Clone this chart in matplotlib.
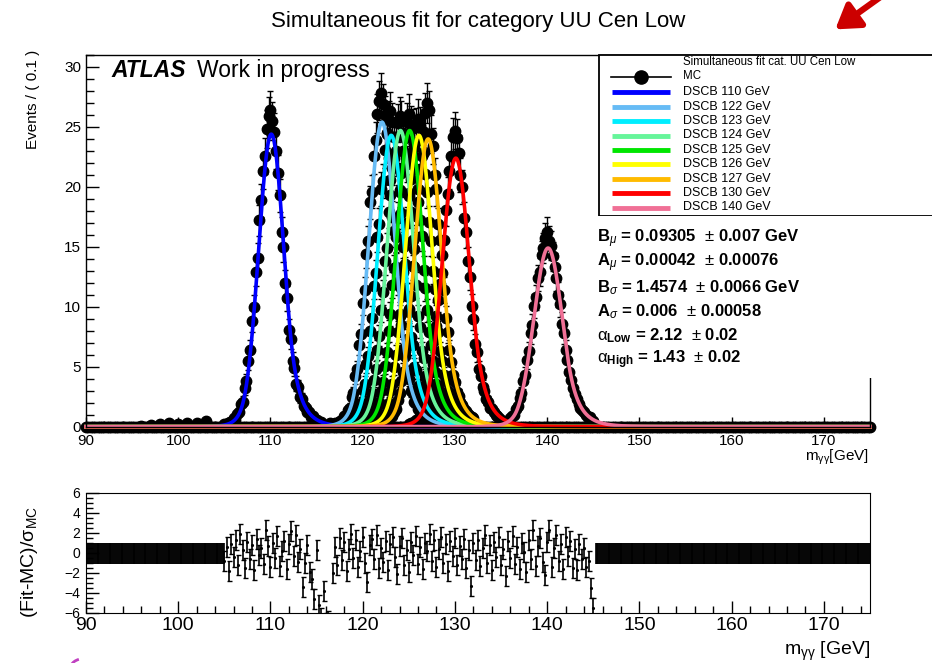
import numpy as np
import matplotlib
matplotlib.use('Agg')
import matplotlib.pyplot as plt
from matplotlib.patches import Rectangle, Arc, FancyArrowPatch
from matplotlib.lines import Line2D
from matplotlib.ticker import MultipleLocator

plt.rcParams['font.family'] = ['Liberation Sans', 'DejaVu Sans']
plt.rcParams['mathtext.fontset'] = 'custom'
plt.rcParams['mathtext.rm'] = 'Liberation Sans'
plt.rcParams['mathtext.it'] = 'Liberation Sans:italic'
plt.rcParams['mathtext.bf'] = 'Liberation Sans:bold'
NARROW = ['Liberation Sans Narrow', 'Liberation Sans', 'DejaVu Sans']

# mass points, fit colours, fitted peak heights
masses = [110, 122, 123, 124, 125, 126, 127, 130, 140]
colors = ['#0000ff', '#66bbf5', '#00eeff', '#66f59a', '#00e600',
          '#ffff00', '#ffbb00', '#ff0000', '#f07096']
curve_peak = [24.4, 25.4, 24.3, 24.7, 24.7, 24.3, 24.0, 22.4, 14.9]

# simultaneous fit parameters (from the text box)
B_mu, A_mu = 0.09305, 0.00042
B_sig, A_sig = 1.4574, 0.006
a_low, a_high = 2.12, 1.43
n_low, n_high = 10.0, 10.0

# MC points, -5 .. +5 GeV around each mass in 0.2 GeV steps
mc_offsets = np.linspace(-5, 5, 51)
mc_110 = [0.2, 0.1, 0.3, 0.4, 0.5, 0.7, 0.6, 1.1, 1.2, 1.9, 2.1, 3.2, 3.8, 5.5, 6.4, 8.8, 10.0,
          12.9, 14.1, 17.2, 18.9, 21.3, 22.6, 24.8, 25.9, 26.4, 25.5, 24.6, 23.0, 21.2, 19.3,
          16.2, 15.0, 12.0, 10.7, 8.1, 7.3, 5.5, 4.9, 3.6, 3.3, 2.5, 2.3, 1.7, 1.6, 1.2, 1.2,
          0.8, 0.9, 0.6, 0.6]
mc_122 = [0.3, 0.2, 0.4, 0.5, 0.6, 0.9, 0.8, 1.4, 1.6, 2.5, 2.8, 4.2, 4.8, 6.8, 7.7, 10.3, 11.4,
          14.4, 15.5, 18.7, 19.6, 22.6, 23.9, 26.1, 27.2, 27.8, 26.9, 26.0, 24.5, 22.4, 20.6,
          17.5, 16.3, 13.3, 12.1, 9.4, 8.5, 6.5, 5.9, 4.4, 4.0, 3.0, 2.8, 2.1, 2.0, 1.5, 1.4,
          1.0, 1.1, 0.7, 0.8]
mc_123 = [0.1, 0.3, 0.3, 0.6, 0.5, 0.8, 1.1, 1.1, 1.8, 2.0, 3.1, 3.6, 5.2, 5.9, 8.0, 9.1, 11.7,
          12.8, 15.8, 16.9, 19.8, 20.5, 23.1, 24.4, 25.6, 26.3, 25.4, 24.2, 23.0, 21.6, 19.6,
          17.8, 15.0, 13.6, 10.9, 9.8, 7.5, 6.8, 5.0, 4.7, 3.4, 3.3, 2.4, 2.4, 1.7, 1.7, 1.2,
          1.3, 0.8, 0.9, 0.6]
mc_124 = [0.3, 0.2, 0.4, 0.4, 0.7, 0.6, 1.0, 1.3, 1.5, 2.3, 2.8, 3.9, 4.8, 6.4, 7.6, 9.7, 11.2,
          13.8, 14.9, 17.9, 19.3, 21.6, 22.4, 24.2, 25.3, 25.9, 25.6, 24.5, 22.8, 21.9, 19.2,
          17.9, 15.6, 13.3, 11.8, 9.2, 8.3, 6.3, 5.7, 4.2, 3.9, 2.9, 2.7, 2.0, 1.9, 1.4, 1.4,
          1.0, 1.0, 0.7, 0.8]
mc_125 = [0.2, 0.3, 0.3, 0.5, 0.6, 0.8, 0.9, 1.3, 1.7, 2.1, 3.0, 3.7, 5.1, 6.2, 8.0, 9.4, 11.8,
          13.2, 15.8, 17.4, 19.7, 21.2, 23.0, 24.1, 25.4, 26.1, 25.2, 24.9, 23.3, 21.5, 19.8,
          17.2, 15.9, 13.1, 11.6, 9.7, 7.9, 6.8, 5.2, 4.6, 3.6, 3.2, 2.5, 2.3, 1.8, 1.6, 1.3,
          1.2, 0.9, 0.8, 0.8]
mc_126 = [0.2, 0.2, 0.4, 0.4, 0.6, 0.7, 1.0, 1.1, 1.7, 2.0, 3.0, 3.6, 5.0, 6.0, 7.9, 9.2, 11.6,
          12.9, 15.4, 17.0, 19.5, 20.7, 22.6, 23.7, 25.0, 25.7, 25.1, 24.0, 22.9, 21.1, 19.6,
          17.1, 15.5, 13.0, 11.5, 9.2, 7.9, 6.3, 5.5, 4.3, 3.8, 3.0, 2.6, 2.2, 1.8, 1.5, 1.4,
          1.1, 1.0, 0.8, 0.7]
mc_127 = [0.3, 0.2, 0.3, 0.5, 0.5, 0.8, 0.9, 1.2, 1.5, 2.2, 2.8, 3.8, 4.6, 6.3, 7.3, 9.6, 10.9,
          13.4, 14.8, 17.6, 18.7, 21.5, 22.6, 24.6, 26.2, 27.0, 26.4, 24.4, 23.4, 21.0, 19.8,
          16.9, 15.6, 12.8, 11.4, 9.1, 7.9, 6.4, 5.4, 4.3, 3.7, 2.9, 2.6, 2.1, 1.8, 1.5, 1.3,
          1.1, 0.9, 0.8, 0.7]
mc_130 = [0.2, 0.3, 0.3, 0.4, 0.6, 0.6, 0.9, 1.2, 1.4, 2.0, 2.7, 3.4, 4.6, 5.5, 7.2, 8.4, 10.6,
          11.9, 14.3, 15.6, 18.1, 19.4, 21.3, 22.6, 24.2, 24.7, 24.1, 22.8, 21.0, 20.0, 17.4,
          16.2, 13.8, 12.5, 10.1, 9.0, 6.9, 6.2, 4.8, 4.2, 3.3, 3.0, 2.3, 2.1, 1.6, 1.5, 1.2,
          1.0, 0.9, 0.7, 0.6]
mc_140 = [0.2, 0.3, 0.3, 0.5, 0.5, 0.7, 0.9, 1.0, 1.5, 1.7, 2.4, 2.8, 3.8, 4.3, 5.6, 6.3, 7.8,
          8.5, 10.1, 10.8, 12.4, 12.9, 14.3, 14.9, 15.7, 16.2, 15.5, 15.1, 14.2, 13.3, 12.4,
          11.0, 10.2, 8.6, 7.8, 6.4, 5.6, 4.6, 3.9, 3.2, 2.7, 2.3, 1.9, 1.6, 1.4, 1.2, 1.0,
          0.8, 0.8, 0.6, 0.5]
mc_values = [mc_110, mc_122, mc_123, mc_124, mc_125, mc_126, mc_127, mc_130, mc_140]
mc_weight = 0.1   # per-event weight -> stat. error sqrt(w * N)

# scattered low-level MC points off the peaks
tail_x = [96, 97, 98, 99, 100, 101, 102, 103, 115.5, 116.5, 117.5, 118.5]
tail_y = [0.1, 0.15, 0.2, 0.3, 0.25, 0.35, 0.3, 0.5, 0.4, 0.35, 0.5, 0.6]

# pulls (Fit-MC)/sigma, 105 .. 145 GeV in 0.25 GeV steps
pull_start, pull_step = 105.0, 0.25
pulls = [-0.8, 0.6, -1.8, 0.9, -0.4, 1.3, -1.2, 1.9,
         0.3, -1.5, 1.1, -0.6, 0.8, -1.7, 1.4, -0.2,
         0.5, -1.1, 2.3, 0.7, -1.4, 1.0, -0.5, 1.7,
         -1.3, 0.2, 1.2, -1.6, 0.9, 2.2, -0.3, 1.8,
         -0.9, 0.4, -3.4, -1.0, 0.8, -1.9, -2.6, -4.6,
         0.3, -5.2, -6.5, -3.8, -7.0, -6.8, -7.5, -2.0,
         0.6, -1.2, 1.5, -0.7, 1.1, -1.8, 0.4, 1.9,
         -0.5, 1.3, -1.4, 0.2, 1.6, -1.0, -2.9, 0.8,
         1.4, -0.6, 1.8, -1.5, 0.5, -0.9, 1.2, -1.7,
         0.9, 1.6, -0.4, -2.1, 0.7, 1.5, -1.2, 0.3,
         -1.9, 1.1, -0.2, 1.7, -1.1, 0.6, -1.6, 1.0,
         0.2, 1.9, -0.8, 1.3, -1.4, 0.4, 1.6, -1.0,
         0.9, -1.8, 1.2, -0.3, 1.5, -1.2, 0.7, -0.6,
         1.4, -1.5, 0.3, -3.3, 1.0, -0.7, 1.3, -1.3,
         0.5, 1.8, -1.0, 0.8, -1.7, 1.1, -0.4, 1.6,
         -1.2, 0.4, -2.3, 1.2, -0.5, 1.7, -1.1, 0.6,
         -1.6, 1.0, 0.1, -1.9, 1.3, -0.6, 2.3, -1.3,
         0.7, 1.5, -0.9, -2.2, 1.1, 2.3, -1.4, 0.5,
         1.8, -0.8, 0.9, -1.6, 1.6, -0.3, 1.2, -1.5,
         0.4, -1.7, 0.9, -0.6, 0.5, -1.4, -0.8, -3.5,
         -5.5]

xmin, xmax = 90, 175


def dscb(x, mu, sig):
    t = (x - mu) / sig
    y = np.exp(-0.5 * t ** 2)
    lo = t < -a_low
    hi = t > a_high
    y[lo] = np.exp(-0.5 * a_low ** 2) * (a_low / n_low * (n_low / a_low - a_low - t[lo])) ** (-n_low)
    y[hi] = np.exp(-0.5 * a_high ** 2) * (a_high / n_high * (n_high / a_high - a_high + t[hi])) ** (-n_high)
    return y


W, H = 932, 663
fig = plt.figure(figsize=(9.32, 6.63), dpi=100)


def fx(x):
    return x / W


def fy(y):
    return 1 - y / H


ax = fig.add_axes([fx(86), fy(426.7), fx(870 - 86), (426.7 - 55) / H])
axr = fig.add_axes([fx(86), fy(613), fx(870 - 86), (613 - 493) / H])

# ---- top pad: MC points
ms = 7.5
zero_x = np.arange(xmin, xmax + 0.01, 0.25)
ax.plot(zero_x, np.zeros_like(zero_x), 'o', color='black', ms=ms, clip_on=False, zorder=2)
ax.plot(tail_x, tail_y, 'o', color='black', ms=ms, zorder=2)
for m, vals in zip(masses, mc_values):
    v = np.array(vals)
    ax.errorbar(m + mc_offsets, v, yerr=np.sqrt(mc_weight * v), fmt='o', color='black',
                ms=ms, elinewidth=1, capsize=2.2, capthick=1, zorder=2)

# ---- fitted DSCB curves
xf = np.linspace(xmin, xmax, 4000)
for m, c, pk in zip(masses, colors, curve_peak):
    mu = m + B_mu + A_mu * (m - 125)
    sig = B_sig + A_sig * (m - 125)
    ax.plot(xf, pk * dscb(xf, mu, sig), color=c, lw=2.6, zorder=3, clip_on=False)

ax.set_xlim(xmin, xmax)
ax.set_ylim(0, 31)
ax.xaxis.set_major_locator(MultipleLocator(10))
ax.xaxis.set_minor_locator(MultipleLocator(2))
ax.yaxis.set_major_locator(MultipleLocator(5))
ax.yaxis.set_minor_locator(MultipleLocator(1))
ax.tick_params(which='both', direction='in', top=False, right=False, labelsize=11, width=1)
ax.tick_params(which='major', axis='y', length=9)
ax.tick_params(which='minor', axis='y', length=6)
ax.tick_params(which='major', axis='x', length=7, pad=5)
ax.tick_params(which='minor', axis='x', length=4)
for sp in ax.spines.values():
    sp.set_linewidth(1)
    sp.set_zorder(4)

ax.text(0.033, 0.94, 'ATLAS', transform=ax.transAxes, fontsize=16.5, fontweight='bold',
        fontstyle='italic', va='baseline')
ax.text(0.142, 0.94, 'Work in progress', transform=ax.transAxes, fontsize=16.5, va='baseline')

fig.text(fx(869), fy(457), r'm$_{\mathrm{\gamma\gamma}}$[GeV]', ha='right', va='center', fontsize=11)
fig.text(fx(33), fy(50), 'Events / ( 0.1 )', rotation=90, ha='center', va='top', fontsize=11)
fig.text(fx(478), fy(22), 'Simultaneous fit for category UU Cen Low', ha='center', va='center',
         fontsize=16)

# ---- bottom pad: pulls
flat_lo = np.arange(xmin + 0.05, 105.0, 0.1)
flat_hi = np.arange(145.25, xmax, 0.1)
for fxs in (flat_lo, flat_hi):
    axr.errorbar(fxs, np.zeros_like(fxs), yerr=1.05, fmt='none', ecolor='black', elinewidth=1.2)
px = pull_start + pull_step * np.arange(len(pulls))
axr.errorbar(px, pulls, yerr=1, fmt='.', color='black', ms=2.5, elinewidth=1.2,
             capsize=1.8, capthick=1)
axr.set_xlim(xmin, xmax)
axr.set_ylim(-6, 6)
axr.xaxis.set_major_locator(MultipleLocator(10))
axr.xaxis.set_minor_locator(MultipleLocator(2))
axr.yaxis.set_major_locator(MultipleLocator(2))
axr.yaxis.set_minor_locator(MultipleLocator(0.5))
axr.tick_params(which='both', direction='in', top=False, right=False, width=1,
                labelfontfamily=NARROW)
axr.tick_params(axis='x', which='major', length=9, labelsize=14, pad=3)
axr.tick_params(axis='x', which='minor', length=5)
axr.tick_params(axis='y', which='major', length=9, labelsize=10, pad=4)
axr.tick_params(axis='y', which='minor', length=5)
fig.text(fx(870), fy(651), r'm$_{\mathrm{\gamma\gamma}}$ [GeV]', ha='right', va='center',
         fontsize=14, family=NARROW)
fig.text(fx(30), fy(562), r'(Fit-MC)/$\mathrm{\sigma}_{\mathrm{MC}}$', rotation=90,
         ha='center', va='center', fontsize=14, family=NARROW)

# ---- legend box
fig.patches.append(Rectangle((fx(599), fy(216)), fx(960 - 599), (216 - 55) / H,
                             transform=fig.transFigure, facecolor='white',
                             edgecolor='black', lw=1.3, zorder=5))
fig.text(fx(683), fy(62), 'Simultaneous fit cat. UU Cen Low', fontsize=8.3, va='center', zorder=6)
fig.text(fx(683), fy(76), 'MC', fontsize=8.3, va='center', zorder=6)
fig.lines.append(Line2D([fx(611), fx(671)], [fy(77), fy(77)], transform=fig.transFigure,
                        color='black', lw=1.2, zorder=6))
fig.lines.append(Line2D([fx(641)], [fy(77)], transform=fig.transFigure, marker='o',
                        color='black', ms=9.5, zorder=6))
for i, (m, c) in enumerate(zip(masses, colors)):
    yy = 92.3 + i * 14.4
    fig.lines.append(Line2D([fx(612), fx(670)], [fy(yy), fy(yy)], transform=fig.transFigure,
                            color=c, lw=3.5, solid_capstyle='butt', zorder=6))
    fig.text(fx(683), fy(yy), 'DSCB %d GeV' % m, fontsize=9, va='center', zorder=6)

# ---- parameter box (white, hides the right frame edge)
fig.patches.append(Rectangle((fx(585), fy(378)), fx(W + 10 - 585), (378 - 216) / H,
                             transform=fig.transFigure, facecolor='white', edgecolor='none',
                             zorder=5))
par_lines = [r'$\mathbf{B}_{\mu}$ = 0.09305  $\pm$ 0.007 GeV',
             r'$\mathbf{A}_{\mu}$ = 0.00042  $\pm$ 0.00076',
             r'$\mathbf{B}_{\sigma}$ = 1.4574  $\pm$ 0.0066 GeV',
             r'$\mathbf{A}_{\sigma}$ = 0.006  $\pm$ 0.00058',
             r'$\mathrm{\alpha}_{\mathbf{Low}}$ = 2.12  $\pm$ 0.02',
             r'$\mathrm{\alpha}_{\mathbf{High}}$ = 1.43  $\pm$ 0.02']
for i, t in enumerate(par_lines):
    fig.text(fx(597), fy(239 + i * 24.2), t, fontsize=12, fontweight='bold', va='center', zorder=6)

# ---- screenshot annotations
fig.patches.append(FancyArrowPatch(
    (fx(893), fy(-12)), (fx(833), fy(31)), transform=fig.transFigure,
    arrowstyle='-|>,head_length=14,head_width=9', color='#cc0000', lw=4.5, zorder=7))
fig.patches.append(Arc((fx(82), fy(672)), fx(26), 26 / H, theta1=100, theta2=200,
                       transform=fig.transFigure, color='#c040c0', lw=2, zorder=7))

fig.savefig('out.png', dpi=100)
